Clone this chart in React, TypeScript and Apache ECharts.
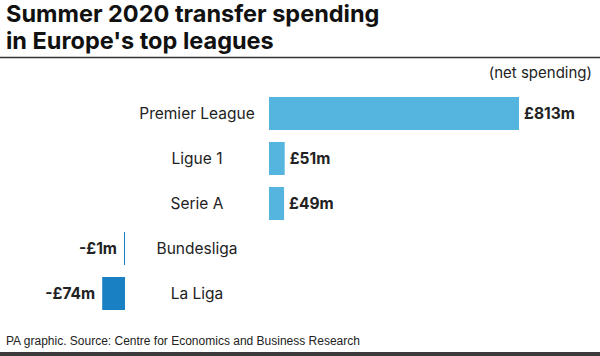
import React, { useEffect, useRef } from "react";
import * as echarts from "echarts";

const categories = ["Premier League", "Ligue 1", "Serie A", "Bundesliga", "La Liga"];
const values = [813, 51, 49, -1, -74];
const titleLines = ["Summer 2020 transfer spending", "in Europe's top leagues"];
const unitNote = "(net spending)";
const footer = "PA graphic. Source: Centre for Economics and Business Research";

const FONT = "Inter, 'Liberation Sans', sans-serif";
const NARROW = "'Liberation Sans', Arial, sans-serif";
const POS_COLOR = "#56b5df";
const NEG_COLOR = "#1a80c4";

export default function App() {
  const ref = useRef<HTMLDivElement>(null);
  useEffect(() => {
    if (!ref.current) return;
    const chart = echarts.init(ref.current, undefined, { renderer: "svg" });
    const posData = values.map((v) => (v > 0 ? v : null));
    const negData = values.map((v) => (v < 0 ? v : null));
    chart.setOption({
      animation: false,
      textStyle: { fontFamily: FONT },
      grid: [
        { left: 269, top: 91, width: 250, height: 225 },
        { left: 102.2, top: 91, width: 22.8, height: 225 },
      ],
      xAxis: [
        { gridIndex: 0, type: "value", min: 0, max: 813, show: false },
        { gridIndex: 1, type: "value", min: -74, max: 0, show: false },
      ],
      yAxis: [
        {
          gridIndex: 0,
          type: "category",
          data: categories,
          inverse: true,
          axisLine: { show: false },
          axisTick: { show: false },
          splitLine: { show: false },
          axisLabel: {
            align: "center",
            margin: 72,
            fontSize: 15.5,
            color: "#222",
            fontFamily: FONT,
          },
        },
        {
          gridIndex: 1,
          type: "category",
          data: categories,
          inverse: true,
          show: false,
        },
      ],
      series: [
        {
          type: "bar",
          xAxisIndex: 0,
          yAxisIndex: 0,
          data: posData,
          barWidth: 33,
          itemStyle: { color: POS_COLOR },
          label: {
            show: true,
            position: "right",
            distance: 5,
            formatter: (p: any) => `£${p.value}m`,
            fontSize: 15.5,
            fontWeight: "bold",
            color: "#222",
            fontFamily: FONT,
          },
        },
        {
          type: "bar",
          xAxisIndex: 1,
          yAxisIndex: 1,
          data: negData,
          barWidth: 33,
          barMinHeight: 1,
          itemStyle: { color: NEG_COLOR },
          label: {
            show: true,
            position: "left",
            distance: 7,
            formatter: (p: any) => `-£${Math.abs(p.value)}m`,
            fontSize: 15.5,
            fontWeight: "bold",
            color: "#222",
            fontFamily: FONT,
          },
        },
      ],
      graphic: [
        {
          type: "text",
          left: 6,
          top: 0,
          style: {
            text: titleLines.join("\n"),
            font: `bold 23.5px ${FONT}`,
            lineHeight: 27,
            fill: "#111",
          },
        },
        {
          type: "line",
          shape: { x1: 0, y1: 57.5, x2: 600, y2: 57.5 },
          style: { stroke: "#333", lineWidth: 1.5 },
        },
        {
          type: "text",
          right: 8,
          top: 65,
          style: {
            text: unitNote,
            font: `15px ${FONT}`,
            fill: "#222",
          },
        },
        {
          type: "text",
          left: 6,
          top: 335,
          style: {
            text: footer,
            font: `12px ${NARROW}`,
            fill: "#222",
          },
        },
        {
          type: "rect",
          shape: { x: 0, y: 352, width: 600, height: 4 },
          style: { fill: "#3a3a3a" },
        },
      ],
    });
    return () => chart.dispose();
  }, []);
  return (
    <div
      ref={ref}
      style={{ position: "fixed", left: 0, top: 0, width: 600, height: 356, background: "#fff" }}
    />
  );
}
